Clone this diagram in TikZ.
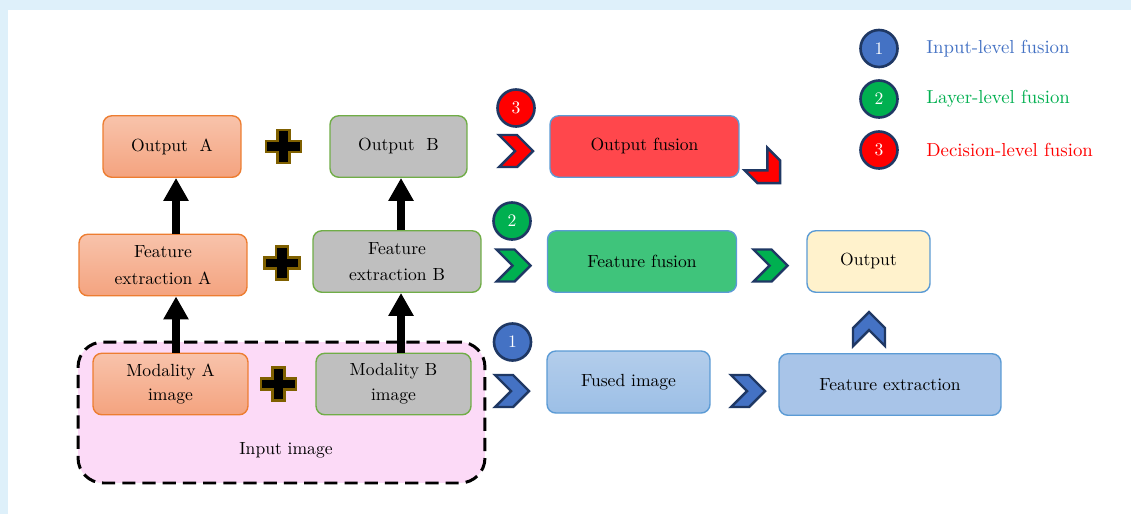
\documentclass[tikz,border=0pt]{standalone}
\usetikzlibrary{arrows.meta}
\definecolor{frameBlue}{HTML}{DEF0FA}
\definecolor{orangeTop}{HTML}{F8C3AB}
\definecolor{orangeBot}{HTML}{F4A37F}
\definecolor{orangeLine}{HTML}{ED7D31}
\definecolor{grayFill}{HTML}{BFBFBF}
\definecolor{greenLine}{HTML}{70AD47}
\definecolor{blueLine}{HTML}{5B9BD5}
\definecolor{navyLine}{HTML}{1F3864}
\definecolor{pinkFill}{HTML}{FCDAF7}
\definecolor{redFill}{HTML}{FF474C}
\definecolor{greenFill}{HTML}{3FC47B}
\definecolor{creamFill}{HTML}{FFF2CC}
\definecolor{skyTop}{HTML}{B3CDEB}
\definecolor{skyBot}{HTML}{9CBFE6}
\definecolor{skyFill}{HTML}{A8C4E8}
\definecolor{lvlBlue}{HTML}{4472C4}
\definecolor{lvlGreen}{HTML}{00B050}
\definecolor{lvlRed}{HTML}{FF0000}
\definecolor{plusLine}{HTML}{7F6000}
\begin{document}
\begin{tikzpicture}
[x=0.02cm, y=-0.02cm,
  boxDecorate/.style={shape=rectangle,rounded corners=5pt,draw,line width=0.8pt,align=center,text=black,inner sep=2pt},
  orangeBox/.style={boxDecorate,draw=orangeLine,top color=orangeTop,bottom color=orangeBot},
  grayBox/.style={boxDecorate,draw=greenLine,fill=grayFill},
  fuseBox/.style={boxDecorate,draw=blueLine},
  badgeDecorate/.style={shape=circle,draw=navyLine,line width=1.5pt,minimum size=0.74cm,inner sep=0pt,text=white},
  upArrow/.style={-{Triangle[width=0.48cm,length=0.46cm]},line width=5pt},
  plusSign/.pic={
    \path[draw=plusLine,fill=black,line width=1.2pt]
      (-6,-16.5) -- (6,-16.5) -- (6,-5.5) -- (17.5,-5.5) -- (17.5,5.5) -- (6,5.5)
      -- (6,16.5) -- (-6,16.5) -- (-6,5.5) -- (-17.5,5.5) -- (-17.5,-5.5) -- (-6,-5.5) -- cycle;},
  chevronSign/.pic={
    \path[draw=navyLine,line width=1.4pt,line join=miter,pic actions]
      (-17,-16) -- (1,-16) -- (17,0) -- (1,16) -- (-17,16) -- (-1,0) -- cycle;}]
%% frame
\useasboundingbox[fill=frameBlue] (0,0) rectangle (1131,514);
\fill[white] (8,10) rectangle (1131,514);
%% input area
\node (inputBox) at (281.5,412.5) [draw,dashed,dash pattern=on 7.5pt off 4pt,line width=1.7pt,
  rounded corners=0.5cm,fill=pinkFill,minimum width=8.14cm,minimum height=2.82cm] {};
\node (inputLabel) at (286,450) {Input image};
%% boxes of modality A and B
\foreach \nodename/\x/\y/\w/\txt in {
  outA/172/146.5/2.76/{Output\ \ A},
  featA/163/265/3.36/{Feature\\[3pt]extraction A},
  modA/170.5/384/3.10/{Modality A\\[2pt]image}}
{
  \node (\nodename) at (\x,\y) [orangeBox,minimum width=\w cm,minimum height=1.23cm] {\txt};
}
\foreach \nodename/\x/\y/\w/\txt in {
  outB/398.5/146.5/2.74/{Output\ \ B},
  featB/397/261.5/3.36/{Feature\\[3pt]extraction B},
  modB/393.5/384/3.10/{Modality B\\[2pt]image}}
{
  \node (\nodename) at (\x,\y) [grayBox,minimum width=\w cm,minimum height=1.23cm] {\txt};
}
%% fusion boxes
\node (outFusion) at (644.5,146.5) [fuseBox,fill=redFill,minimum width=3.78cm,minimum height=1.23cm] {Output fusion};
\node (featFusion) at (642,261.5) [fuseBox,fill=greenFill,minimum width=3.78cm,minimum height=1.23cm] {Feature fusion};
\node (finalOut) at (868.5,261.5) [fuseBox,fill=creamFill,minimum width=2.46cm,minimum height=1.23cm] {Output};
\node (fusedImg) at (628.5,382) [fuseBox,top color=skyTop,bottom color=skyBot,minimum width=3.26cm,minimum height=1.24cm] {Fused image};
\node (featExt) at (890,384.5) [fuseBox,fill=skyFill,minimum width=4.44cm,minimum height=1.23cm] {Feature extraction};
%% plus signs
\foreach \x/\y in {283.5/146.5, 282/263, 278.5/384}
{
  \pic at (\x,\y) {plusSign};
}
%% chevrons
\foreach \x/\y/\ang/\col in {
  516/151/0/lvlRed, 768/171/-45/lvlRed,
  513.5/265.5/0/lvlGreen, 770.5/265.5/0/lvlGreen,
  512/391/0/lvlBlue, 748/391/0/lvlBlue, 869/329/90/lvlBlue}
{
  \pic[rotate=\ang,fill=\col] at (\x,\y) {chevronSign};
}
%% level badges
\foreach \nodename/\x/\y/\col/\num in {
  badgeC/516/108/lvlRed/3, badgeB/512/221/lvlGreen/2, badgeA/512.5/342/lvlBlue/1}
{
  \node (\nodename) at (\x,\y) [badgeDecorate,fill=\col] {\num};
}
%% legend
\foreach \nodename/\y/\col/\txt in {
  levelA/48.5/lvlBlue/Input-level fusion,
  levelB/99/lvlGreen/Layer-level fusion,
  levelC/150/lvlRed/Decision-level fusion}
{
  \node (\nodename Dot) at (879,\y) [badgeDecorate,fill=\col] {};
  \node (\nodename) at (926,\y) [anchor=west,inner sep=0pt,text=\col,font=\fontsize{10.7}{13}\selectfont] {\txt};
}
\node at (levelADot) [text=white] {1};
\node at (levelBDot) [text=white] {2};
\node at (levelCDot) [text=white] {3};
%% feature arrows
\coordinate (colA) at (176,0);
\coordinate (colB) at (401,0);
\draw[upArrow] (modA.north -| colA) -- (featA.south -| colA);
\draw[upArrow] (featA.north -| colA) -- (outA.south -| colA);
\draw[upArrow] (modB.north -| colB) -- (featB.south -| colB);
\draw[upArrow] (featB.north -| colB) -- (outB.south -| colB);
\end{tikzpicture}
\end{document}
